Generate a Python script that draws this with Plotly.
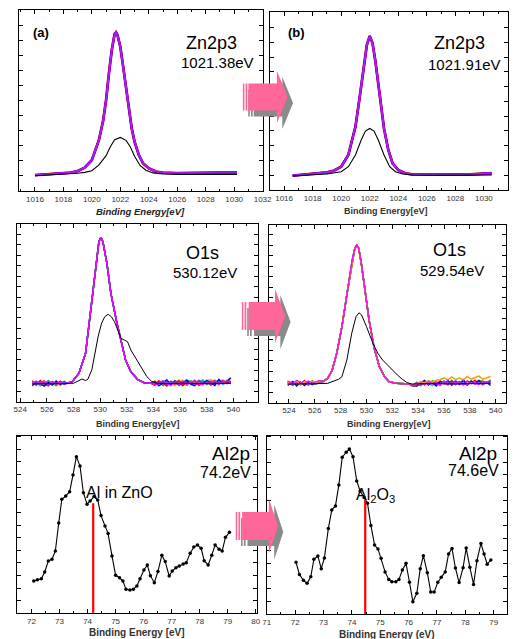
import plotly.graph_objects as go

W, H = 517, 639

# ---------------- data ----------------
# (a) Zn2p3
zn_a_x = [1016.0, 1017.0, 1018.0, 1018.5, 1019.0, 1019.5, 1020.0, 1020.5, 1020.8, 1021.0, 1021.2, 1021.4,
          1021.6, 1021.7, 1021.8, 1022.0, 1022.2, 1022.4, 1022.6, 1022.8, 1023.0, 1023.3, 1023.6, 1024.0,
          1024.5, 1025.0, 1026.0, 1027.0, 1028.0, 1029.0, 1030.0, 1030.2]
zn_a_y = [8.8, 9.2, 9.8, 10.1, 11.0, 12.9, 17.1, 28.2, 39.2, 50.3, 65.0, 77.9,
          86.7, 87.7, 86.2, 79.7, 68.7, 56.7, 44.8, 34.6, 27.3, 19.9, 15.3, 12.5,
          10.7, 10.1, 9.9, 9.9, 9.9, 10.1, 10.3, 10.3]
zn_a_bx = [1016.0, 1018.0, 1019.0, 1019.5, 1020.0, 1020.5, 1021.0, 1021.3, 1021.6, 1022.0, 1022.4, 1022.7,
           1023.0, 1023.4, 1023.8, 1024.3, 1025.0, 1026.0, 1028.0, 1030.2]
zn_a_by = [8.4, 9.2, 9.8, 10.3, 11.2, 14.4, 19.5, 24.5, 28.3, 29.6, 28.0, 24.5,
           19.2, 14.0, 11.5, 10.0, 9.4, 9.2, 9.2, 9.2]

# (b) Zn2p3
zn_b_x = [1016.6, 1018.0, 1019.0, 1019.5, 1020.0, 1020.5, 1021.0, 1021.3, 1021.6, 1021.8, 1022.0, 1022.2,
          1022.4, 1022.7, 1023.0, 1023.3, 1023.6, 1024.0, 1024.5, 1025.0, 1027.0, 1029.0, 1030.55]
zn_b_y = [8.05, 9.0, 9.9, 10.9, 13.1, 19.7, 35.6, 52.4, 71.2, 81.5, 86.5, 82.4,
          72.1, 52.4, 34.6, 22.5, 15.0, 11.2, 9.4, 8.8, 8.6, 8.8, 9.4]
zn_b_bx = [1016.6, 1018.0, 1019.0, 1020.0, 1020.5, 1021.0, 1021.4, 1021.7, 1022.0, 1022.3, 1022.6, 1023.0,
           1023.4, 1023.8, 1024.3, 1025.0, 1027.0, 1030.55]
zn_b_by = [7.9, 8.4, 9.0, 10.3, 13.1, 19.7, 28.1, 33.1, 34.6, 33.1, 28.1, 19.7,
           13.1, 10.3, 9.0, 8.4, 8.2, 8.4]

# (c) O1s
o_c_left_x = [524.9, 525.2, 525.5, 525.8, 526.1, 526.4, 526.7, 527.0, 527.3]
o_c_peak_x = [527.5, 527.9, 528.4, 528.9, 529.2, 529.6, 529.9, 530.05, 530.2, 530.5, 530.8, 531.2,
              531.6, 531.9, 532.3, 532.8, 533.3, 533.8]
o_c_peak_y = [10.4, 11.3, 16.0, 27.3, 46.1, 70.5, 90.2, 92.7, 90.2, 78.0, 61.1, 46.1,
              32.9, 23.5, 16.9, 12.6, 10.7, 10.4]
o_c_right_x = [534.1, 534.4, 534.7, 535.0, 535.3, 535.6, 535.9, 536.2, 536.5, 536.8, 537.1, 537.4,
               537.7, 538.0, 538.3, 538.6, 538.9, 539.2, 539.5, 539.8]
o_c_noise = {
    "#00b000": ([10.8, 9.3, 11.5, 10.0, 11.8, 10.3, 9.1, 11.0, 9.6],
                [10.2, 11.6, 9.2, 10.9, 9.7, 12.0, 10.6, 9.0, 11.5, 11.8, 9.9, 11.2, 12.3, 9.6, 11.4, 12.1, 10.8, 10.1, 12.0, 11.5]),
    "#00cccc": ([10.0, 10.9, 8.9, 10.4, 11.3, 9.6, 10.8, 10.1, 11.6],
                [10.7, 9.5, 11.3, 11.9, 10.3, 9.7, 11.5, 10.4, 9.2, 11.7, 10.9, 9.9, 11.9, 10.6, 9.3, 11.2, 11.8, 9.7, 10.9, 10.3]),
    "#ff9900": ([9.6, 11.6, 10.3, 11.8, 9.8, 11.1, 10.6, 9.2, 11.2],
                [11.7, 9.9, 11.4, 9.5, 10.9, 9.1, 11.2, 12.0, 9.8, 11.5, 10.6, 12.1, 10.2, 11.8, 12.4, 10.7, 11.6, 12.2, 11.0, 12.0]),
    "#ff0000": ([11.8, 9.6, 12.0, 10.2, 9.0, 11.3, 9.8, 11.6, 10.0],
                [9.4, 11.7, 10.5, 8.9, 11.5, 10.0, 12.1, 9.3, 11.0, 10.2, 12.0, 9.1, 10.8, 11.6, 9.5, 11.2, 9.8, 11.9, 10.4, 11.3]),
    "#0000ff": ([9.0, 11.2, 10.0, 8.8, 11.0, 9.4, 11.6, 9.7, 11.1],
                [11.3, 9.0, 10.6, 12.2, 9.6, 11.5, 9.2, 10.9, 12.3, 9.8, 9.1, 11.8, 10.1, 12.0, 10.6, 9.2, 12.5, 10.3, 11.5, 13.4]),
    "#8833ff": ([10.3, 11.4, 9.6, 10.8, 9.9, 11.1, 10.2, 10.7, 11.0],
                [10.9, 9.8, 11.6, 9.7, 11.2, 10.6, 9.4, 11.5, 10.3, 11.1, 9.6, 11.7, 10.6, 10.0, 11.4, 10.3, 11.1, 10.5, 11.8, 11.0]),
    "#ff00ff": ([11.2, 9.7, 10.9, 11.7, 9.9, 11.5, 10.3, 11.2, 9.8],
                [9.2, 10.9, 11.9, 10.3, 9.0, 11.3, 10.0, 11.7, 9.5, 10.9, 11.9, 10.6, 9.4, 11.3, 10.2, 12.0, 9.6, 11.5, 10.1, 10.9]),
}
o_c_bx = [524.9, 525.5, 526.1, 526.7, 527.3, 528.0, 528.4, 528.63, 528.9, 529.07, 529.37, 529.6,
          529.85, 530.1, 530.34, 530.6, 530.83, 531.07, 531.3, 531.56, 531.8, 532.05, 532.3, 532.66,
          533.02, 533.5, 533.88, 534.24, 535.0, 536.0, 537.0, 538.0, 539.0, 539.8]
o_c_by = [10.0, 10.2, 10.1, 10.3, 10.2, 10.4, 11.9, 12.8, 11.9, 12.6, 18.0, 27.0,
          37.0, 44.2, 47.9, 49.3, 47.9, 45.1, 40.4, 35.7, 34.8, 33.8, 29.1, 24.4,
          19.7, 14.1, 11.3, 10.4, 10.2, 10.5, 10.3, 10.4, 10.2, 10.4]

# (d) O1s
o_d_left_x = [523.9, 524.3, 524.6, 524.9, 525.2, 525.5, 525.8, 526.1, 526.35]
o_d_peak_x = [526.6, 527.0, 527.35, 527.7, 528.1, 528.5, 528.9, 529.1, 529.25, 529.4, 529.6, 529.85,
              530.2, 530.6, 531.0, 531.4, 531.75, 532.3, 532.8, 533.3, 533.55]
o_d_peak_y = [11.8, 13.7, 18.4, 27.8, 42.8, 61.6, 80.3, 86.9, 88.7, 86.9, 78.4, 65.3,
              46.5, 30.6, 20.3, 14.6, 11.8, 10.9, 10.9, 10.5, 9.6]
o_d_right_x = [533.9, 534.2, 534.5, 534.8, 535.1, 535.4, 535.7, 536.0, 536.3, 536.6, 536.9, 537.2,
               537.5, 537.8, 538.1, 538.4, 538.7, 539.0, 539.3, 539.6]
o_d_noise = {
    "#00b000": ([11.3, 9.8, 12.1, 10.3, 11.4, 9.9, 12.3, 10.5, 11.6],
                [10.6, 9.6, 11.7, 10.3, 12.3, 11.2, 9.9, 11.9, 10.8, 12.5, 10.2, 11.5, 12.2, 10.6, 12.1, 11.1, 12.6, 11.8, 10.7, 12.9]),
    "#00cccc": ([10.6, 12.0, 10.0, 11.5, 10.3, 11.9, 10.9, 10.4, 11.6],
                [11.6, 10.1, 12.0, 10.9, 9.7, 11.8, 10.5, 12.2, 10.3, 11.2, 12.4, 10.6, 11.4, 9.9, 12.2, 10.9, 10.4, 12.0, 11.0, 11.6]),
    "#ff0000": ([12.2, 10.0, 12.4, 10.6, 12.5, 10.1, 11.8, 10.7, 12.3],
                [9.6, 11.8, 10.2, 12.3, 10.9, 9.8, 12.1, 11.0, 10.0, 12.4, 10.8, 11.9, 10.1, 12.2, 11.0, 12.6, 10.3, 12.0, 11.3, 12.2]),
    "#0000ff": ([9.8, 11.8, 9.4, 11.5, 9.7, 11.7, 10.2, 11.1, 12.0],
                [9.4, 11.3, 12.5, 10.0, 11.6, 9.5, 12.1, 10.5, 12.6, 9.9, 11.9, 10.3, 12.8, 10.0, 12.1, 10.9, 12.4, 10.2, 11.6, 9.7]),
    "#8833ff": ([10.8, 10.2, 11.4, 10.6, 11.9, 10.4, 11.1, 11.5, 12.0],
                [11.2, 10.0, 11.3, 10.4, 11.7, 10.8, 9.9, 11.4, 10.5, 11.3, 10.2, 11.8, 10.7, 10.1, 11.5, 10.4, 11.2, 10.2, 11.6, 10.9]),
    "#ff9900": ([11.6, 10.5, 12.2, 9.9, 11.8, 10.6, 12.0, 11.0, 12.1],
                [10.4, 11.9, 11.1, 12.4, 11.5, 12.6, 12.9, 14.0, 12.8, 14.5, 13.0, 13.9, 12.9, 14.8, 13.3, 14.2, 15.0, 13.2, 14.1, 14.7]),
    "#ff00ff": ([12.0, 10.9, 12.6, 11.4, 10.5, 12.3, 11.0, 11.8, 12.4],
                [10.0, 11.2, 9.8, 11.9, 10.6, 11.4, 10.0, 12.1, 11.0, 10.3, 11.7, 10.9, 10.1, 12.0, 10.6, 11.4, 10.2, 12.1, 10.8, 11.4]),
}
o_d_bx = [524.0, 525.0, 526.0, 527.0, 527.35, 527.6, 527.85, 528.1, 528.48, 528.86, 529.19, 529.42,
          529.62, 530.0, 530.5, 530.88, 531.25, 531.63, 532.0, 532.39, 532.77, 533.14, 533.52, 534.5,
          535.5, 536.5, 537.5, 538.5, 539.6]
o_d_by = [10.5, 10.8, 10.7, 10.9, 11.8, 12.8, 13.2, 14.6, 24.0, 39.1, 48.4, 50.6,
          49.4, 42.8, 33.4, 27.8, 24.0, 21.2, 18.4, 15.6, 13.2, 11.3, 10.5, 10.7,
          10.9, 10.6, 10.8, 10.7, 10.9]

# (e) Al2p
al_e_x = [72.08, 72.21, 72.35, 72.47, 72.60, 72.73, 72.85, 72.97, 73.08, 73.22, 73.36, 73.48, 73.60, 73.73,
          73.85, 73.98, 74.09, 74.23, 74.36, 74.48, 74.62, 74.73, 74.87, 75.00, 75.14, 75.26, 75.37, 75.51,
          75.63, 75.76, 75.87, 76.01, 76.13, 76.24, 76.38, 76.51, 76.65, 76.77, 76.91, 77.02, 77.15, 77.27,
          77.41, 77.52, 77.66, 77.79, 77.92, 78.05, 78.16, 78.30, 78.43, 78.55, 78.69, 78.80, 78.92, 79.06]
al_e_y = [18.2, 18.9, 19.5, 23.3, 29.4, 30.4, 35.1, 50.8, 64.2, 66.0, 68.5, 77.9, 88.2, 82.9,
          67.9, 61.4, 63.2, 65.7, 63.8, 55.0, 49.2, 45.0, 32.3, 21.4, 20.0, 18.2, 13.5, 13.1,
          13.5, 15.4, 19.5, 24.4, 27.2, 21.2, 17.2, 23.6, 32.7, 29.1, 21.0, 23.8, 25.7, 26.6,
          27.8, 28.5, 33.8, 37.3, 38.5, 36.6, 29.6, 27.2, 32.7, 38.5, 36.0, 35.1, 42.8, 45.6]
al_e_ref_x = [74.2, 74.2]
al_e_ref_y = [61.9, 0.0]

# (f) Al2p
al_f_x = [72.03, 72.15, 72.29, 72.42, 72.55, 72.66, 72.80, 72.92, 73.03, 73.17, 73.29, 73.42, 73.54, 73.66,
          73.80, 73.91, 74.04, 74.17, 74.29, 74.43, 74.55, 74.67, 74.80, 74.92, 75.03, 75.17, 75.30, 75.41,
          75.55, 75.66, 75.78, 75.91, 76.03, 76.15, 76.29, 76.41, 76.52, 76.66, 76.78, 76.90, 77.03, 77.15,
          77.29, 77.41, 77.53, 77.65, 77.78, 77.92, 78.03, 78.16, 78.29, 78.41, 78.55, 78.66, 78.77, 78.90]
al_f_y = [29.0, 22.2, 18.9, 17.2, 20.9, 30.7, 32.5, 25.4, 31.4, 48.0, 58.3, 60.6, 72.4, 87.9,
          90.7, 92.5, 88.2, 74.6, 69.0, 65.4, 62.1, 49.7, 38.7, 36.5, 31.2, 23.6, 19.4, 18.1,
          18.1, 19.4, 24.7, 28.4, 17.8, 6.9, 11.6, 25.4, 32.7, 23.2, 12.3, 12.3, 17.8, 20.6,
          23.6, 33.7, 36.8, 25.8, 17.6, 26.0, 37.0, 26.2, 16.6, 29.9, 39.6, 33.7, 27.9, 30.3]
al_f_ref_x = [74.47, 74.47]
al_f_ref_y = [64.3, 0.0]

zn_colors = [("#ff0000", 2.8), ("#0000ff", 2.3), ("#ff00ff", 1.8), ("#8a2be2", 1.1)]

# ---------------- helpers ----------------
def fx(x):
    return x / W

def fy(y):
    return 1 - y / H

FONT = "Liberation Sans, Arial, sans-serif"

fig = go.Figure()

# panel geometry in pixels: (left, right, top, bottom)
panels = {
    1: dict(box=(15.7, 265.7, 10, 191), xr=[1014.9, 1032.03], dt=2, mdt=1, ydt=8.3),
    2: dict(box=(273, 517, 12, 190), xr=[1015.02, 1031.69], dt=2, mdt=1, ydt=8.3),
    3: dict(box=(13, 260.7, 224.3, 401.7), xr=[523.73, 541.85], dt=2, mdt=1, ydt=5.9),
    4: dict(box=(272, 515, 225, 402.7), xr=[522.47, 540.8], dt=2, mdt=1, ydt=5.9),
    5: dict(box=(13, 260, 435.7, 613.3), xr=[71.47, 80.06], dt=1, mdt=0.5, ydt=7.1),
    6: dict(box=(269.3, 516, 435.7, 614), xr=[70.99, 79.47], dt=1, mdt=0.5, ydt=7.1),
}

layout = dict(
    width=W, height=H, margin=dict(l=0, r=0, t=0, b=0),
    paper_bgcolor="white", plot_bgcolor="white", showlegend=False,
    font=dict(family=FONT, color="black"),
)

for i, p in panels.items():
    l, r, t, b = p["box"]
    xa = "xaxis" if i == 1 else f"xaxis{i}"
    ya = "yaxis" if i == 1 else f"yaxis{i}"
    layout[xa] = dict(
        domain=[fx(l), fx(r)], range=p["xr"], anchor="y" if i == 1 else f"y{i}",
        showline=True, linecolor="black", linewidth=1, mirror="ticks",
        ticks="inside", ticklen=4, tickcolor="black", tickwidth=1, dtick=p["dt"],
        minor=dict(ticks="inside", ticklen=2, tickcolor="black", dtick=p["mdt"]),
        showgrid=False, zeroline=False,
        tickfont=dict(size=8, color="#333333", family=FONT),
    )
    layout[ya] = dict(
        domain=[fy(b), fy(t)], range=[0, 100], anchor="x" if i == 1 else f"x{i}",
        showline=True, linecolor="black", linewidth=1, mirror="ticks",
        ticks="inside", ticklen=4, tickcolor="black", tickwidth=1, dtick=p["ydt"],
        showticklabels=False, showgrid=False, zeroline=False,
    )

def add(x, y, i, color, width, mode="lines", marker=None):
    kw = dict(x=x, y=y, mode=mode, line=dict(color=color, width=width),
              xaxis="x" if i == 1 else f"x{i}", yaxis="y" if i == 1 else f"y{i}",
              hoverinfo="skip")
    if marker:
        kw["marker"] = marker
    fig.add_trace(go.Scatter(**kw))

# Zn2p3 panels
for c, w in zn_colors:
    add(zn_a_x, zn_a_y, 1, c, w)
add(zn_a_bx, zn_a_by, 1, "black", 1.1)
for c, w in zn_colors:
    add(zn_b_x, zn_b_y, 2, c, w)
add(zn_b_bx, zn_b_by, 2, "black", 1.1)

# O1s panels
for k, (c, (lv, rv)) in enumerate(o_c_noise.items()):
    add(o_c_left_x + o_c_peak_x + o_c_right_x, lv + o_c_peak_y + rv, 3, c, 1.5 if k < 6 else 1.1)
add(o_c_bx, o_c_by, 3, "black", 1.0)
for k, (c, (lv, rv)) in enumerate(o_d_noise.items()):
    add(o_d_left_x + o_d_peak_x + o_d_right_x, lv + o_d_peak_y + rv, 4, c, 1.5 if k < 6 else 1.1)
add(o_d_bx, o_d_by, 4, "black", 1.0)

# Al2p panels
mk = dict(size=3.5, color="black")
add(al_e_x, al_e_y, 5, "black", 1.1, mode="lines+markers", marker=mk)
add(al_e_ref_x, al_e_ref_y, 5, "#ff0000", 2.2)
add(al_f_x, al_f_y, 6, "black", 1.1, mode="lines+markers", marker=mk)
add(al_f_ref_x, al_f_ref_y, 6, "#ff0000", 2.2)

# ---------------- annotations ----------------
def txt(s, x, y, size, color="black"):
    return dict(text=s, x=fx(x), y=fy(y), xref="paper", yref="paper", showarrow=False,
                xanchor="center", yanchor="middle", font=dict(size=size, color=color, family=FONT))

ann = [
    txt("<b>(a)</b>", 38, 33, 13), txt("Zn2p3", 213, 43, 18), txt("1021.38eV", 219, 63, 15),
    txt("<b>(b)</b>", 300, 33, 13), txt("Zn2p3", 467, 43, 18), txt("1021.91eV", 472, 64, 15),
    txt("O1s", 203.5, 253, 18), txt("530.12eV", 206.5, 273, 15),
    txt("O1s", 456.7, 250, 18), txt("529.54eV", 460, 270, 15),
    txt("Al2p", 232.5, 453, 19), txt("74.2eV", 227.5, 472, 16), txt("Al in ZnO", 118, 492, 16),
    txt("Al2p", 486.7, 453, 19), txt("74.6eV", 482, 470, 16),
    txt("Al<sub>2</sub>O<sub>3</sub>", 381, 495, 16),
    txt("<b><i>Binding Energy[eV]</i></b>", 140, 211, 9.5, "#222222"),
    txt("<b>Binding Energy[eV]</b>", 392, 211, 9, "#333333"),
    txt("<b>Binding Energy[eV]</b>", 137, 424, 9, "#333333"),
    txt("<b>Binding Energy[eV]</b>", 395, 424, 9, "#333333"),
    txt("<b>Binding Energy [eV]</b>", 136, 632, 10, "#333333"),
    txt("<b>Binding Energy (eV)</b>", 393, 634, 10, "#333333"),
]
layout["annotations"] = ann

# ---------------- arrows ----------------
def arrow_shapes(x0, yc, body_start, head_base, tip, hb, hh, color, dx=0, dy=0):
    pts = [(body_start, yc - hb), (head_base, yc - hb), (head_base, yc - hh), (tip, yc),
           (head_base, yc + hh), (head_base, yc + hb), (body_start, yc + hb)]
    path = "M " + " L ".join(f"{fx(px + dx):.5f},{fy(py + dy):.5f}" for px, py in pts) + " Z"
    out = [dict(type="path", path=path, xref="paper", yref="paper", fillcolor=color,
                line=dict(width=0), layer="above")]
    for s0, s1 in [(x0, x0 + 1.6), (x0 + 2.8, x0 + 4.6)]:
        out.append(dict(type="rect", x0=fx(s0 + dx), x1=fx(s1 + dx), y0=fy(yc - hb + dy), y1=fy(yc + hb + dy),
                        xref="paper", yref="paper", fillcolor=color, line=dict(width=0), layer="above"))
    return out

shapes = []
for (x0, yc, bs, hbse, tip, hb, hh) in [(245.0, 97, 250.7, 280, 291, 13.5, 26),
                                          (244.0, 316, 251, 278, 288.5, 14, 27),
                                          (237.7, 526, 244.3, 271.7, 281, 14, 27.5)]:
    shapes += arrow_shapes(x0, yc, bs, hbse, tip, hb, hh, "#8a8a8a", dx=5.5, dy=6)
    shapes += arrow_shapes(x0, yc, bs, hbse, tip, hb, hh, "#ff6699")
layout["shapes"] = shapes

fig.update_layout(**layout)
fig.write_html("out.html")
